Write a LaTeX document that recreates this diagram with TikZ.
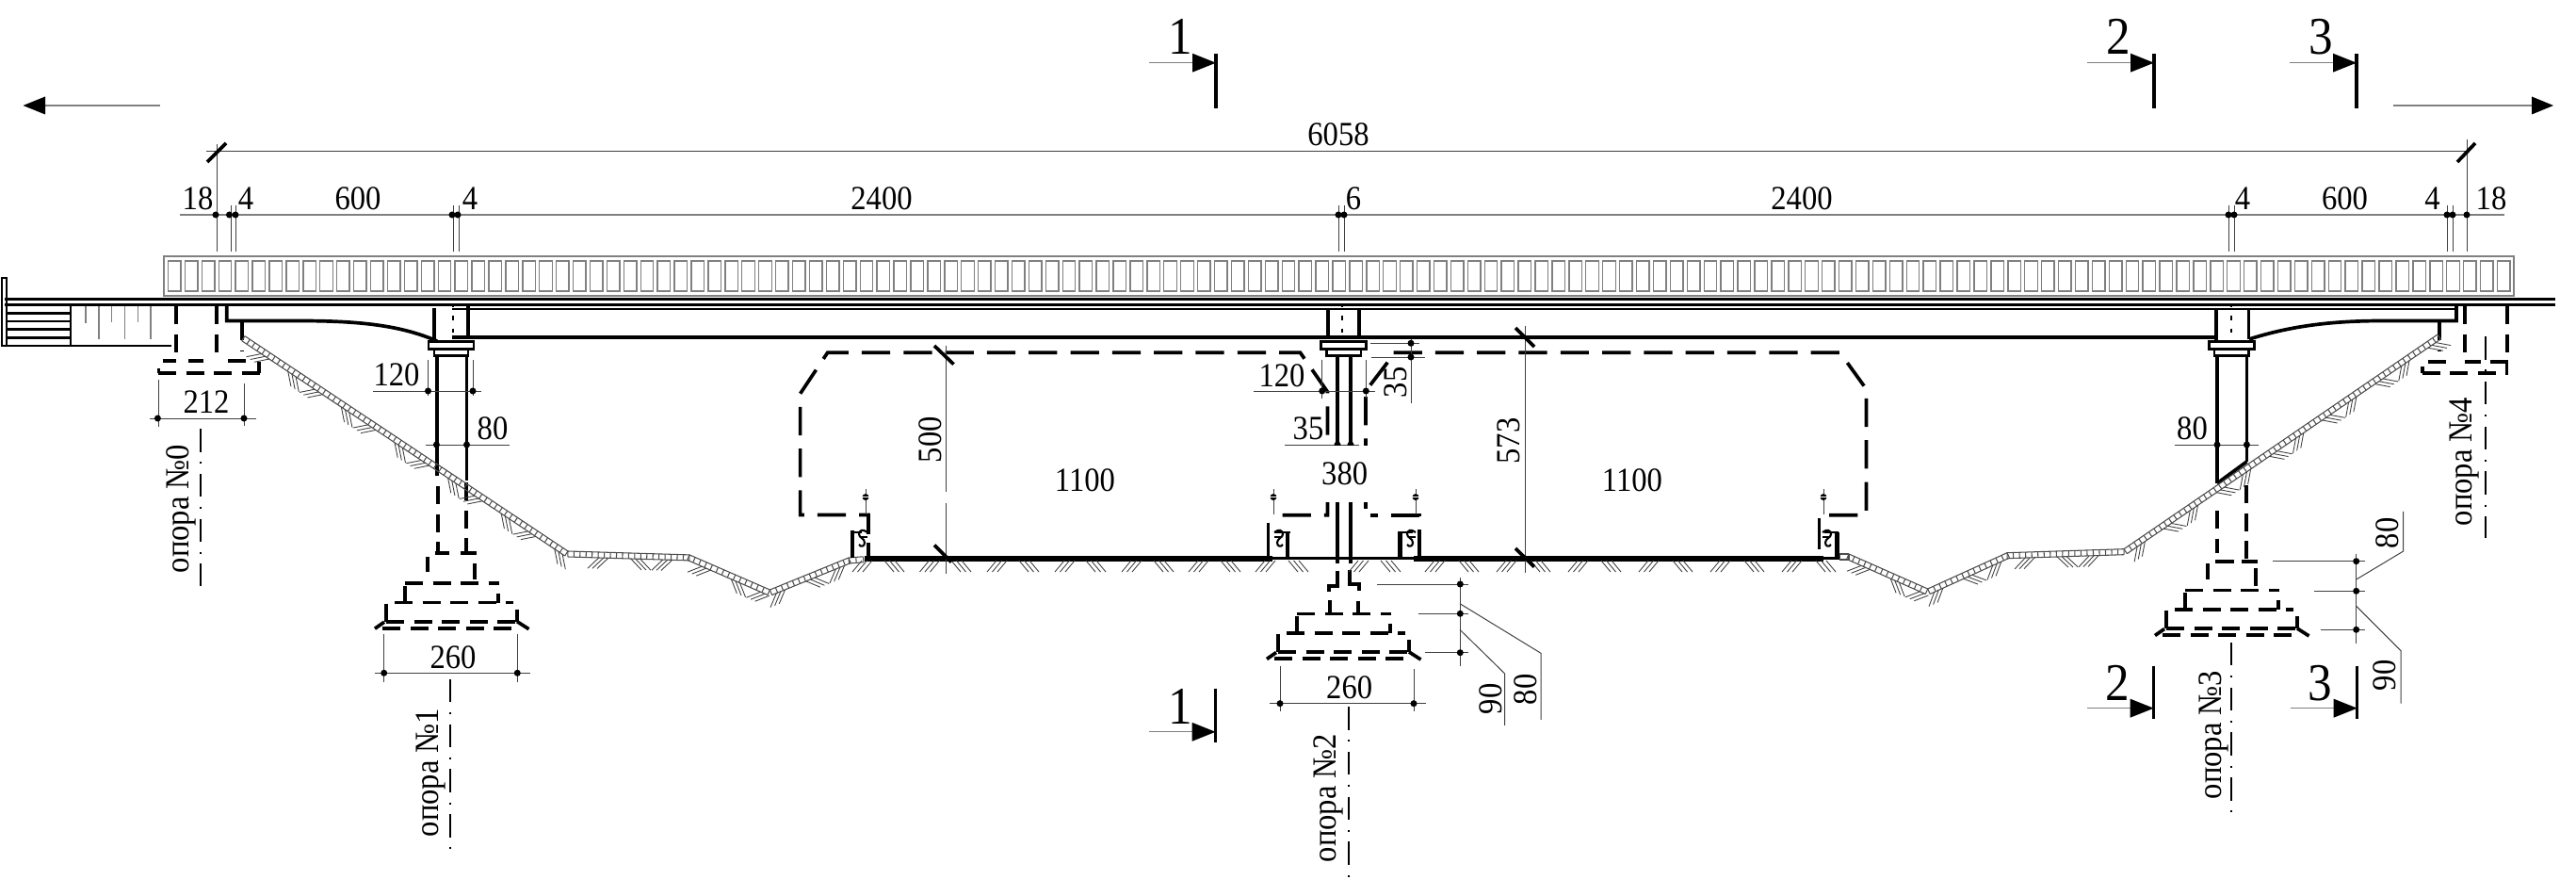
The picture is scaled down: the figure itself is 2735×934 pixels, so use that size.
\documentclass[tikz,border=0pt]{standalone}
\usepackage{fontspec}
\setmainfont[FakeStretch=0.91]{Liberation Serif}
\usetikzlibrary{calc}
\definecolor{thin}{gray}{0.25}
\definecolor{light}{gray}{0.5}
\tikzset{
  x=0.01cm,y=-0.01cm,
  thn/.style={line width=.28pt,draw=thin},
  gry/.style={line width=.4pt,draw=light},
  rail/.style={line width=.4pt,draw=light},
  thk/.style={line width=1.05pt,draw=black},
  med/.style={line width=.8pt,draw=black},
  bld/.style={line width=1.7pt,draw=black},
  dsh/.style={line width=1.1pt,draw=black,dash pattern=on 5.4pt off 3pt},
  gauge/.style={line width=1.05pt,draw=black,dash pattern=on 8.6pt off 4pt},
  axisl/.style={line width=.6pt,draw=black,dash pattern=on 7pt off 3pt on .6pt off 3pt},
  tick/.style={line width=1.05pt,draw=black},
  dimt/.style={font=\fontsize{10.2}{12}\selectfont,inner sep=0pt},
  dimr/.style={dimt,rotate=90},
  sect/.style={font=\fontsize{16}{18}\selectfont,inner sep=0pt},
  hch/.style={line width=.25pt,draw=thin},
  bnd/.style={line width=.3pt,draw=black!70},
}
\newcommand{\dotat}[2]{\fill (#1,#2) circle (1pt);}
\newcommand{\gband}[4]{%
  \pgfmathsetmacro\gdx{#3-#1}\pgfmathsetmacro\gdy{#4-#2}%
  \pgfmathsetmacro\glen{100*veclen(\gdx/100,\gdy/100)}%
  \pgfmathsetmacro\gux{\gdx/\glen}\pgfmathsetmacro\guy{\gdy/\glen}%
  \draw[bnd] (#1,#2)--(#3,#4);
  \draw[bnd] ({#1-6*\guy},{#2+6*\gux})--({#3-6*\guy},{#4+6*\gux});
  \pgfmathtruncatemacro\gn{\glen/6.4}%
  \foreach \gi in {0,...,\gn}{%
    \pgfmathsetmacro\gs{\gi/\gn*\glen}%
    \draw[bnd] ({#1+\gs*\gux},{#2+\gs*\guy})--++({-6*\guy},{6*\gux});
  }%
}
\newcommand{\ghatch}[6]{%
  \pgfmathsetmacro\gdx{#3-#1}\pgfmathsetmacro\gdy{#4-#2}%
  \pgfmathsetmacro\glen{100*veclen(\gdx/100,\gdy/100)}%
  \pgfmathsetmacro\gux{\gdx/\glen}\pgfmathsetmacro\guy{\gdy/\glen}%
  \pgfmathtruncatemacro\hn{(\glen-#5)/#6}%
  \foreach \gi in {0,...,\hn}{%
    \pgfmathsetmacro\gs{#5+\gi*#6}%
    \pgfmathsetmacro\gsg{ifthenelse(mod(\gi,2)==0,-1,1)}%
    \foreach \gk in {-5,0,5}{%
      \draw[hch] ({#1+(\gs+\gk)*\gux-6*\guy},{#2+(\gs+\gk)*\guy+6*\gux})
        --++({11.5*(-\guy+\gsg*\gux)},{11.5*(\gux+\gsg*\guy)});
    }%
  }%
}
\newcommand{\fwd}[1]{\foreach \hx in {#1}{\foreach \hk in {0,5.5,11}{\draw[hch] ({\hx+\hk},607)--({\hx+\hk+10},595);}}}
\newcommand{\bwd}[1]{\foreach \hx in {#1}{\foreach \hk in {0,5.5,11}{\draw[hch] ({\hx+\hk},595)--({\hx+\hk+10},607);}}}
% foundation steps, origin at centre and top of stem
\newcommand{\fnd}[2]{%
  \begin{scope}[shift={(#1,#2)}]
  \draw[dsh] (-50,32.5)--(50,32.5);
  \draw[thk] (-50,35.5)--(-50,52) (49,43)--(49,53);
  \draw[dsh] (-61,52.8)--(65,52.8);
  \draw[thk] (-70,54)--(-70,73) (69,60)--(69,73);
  \draw[dsh] (-70,73)--(68,73);
  \draw[dsh] (-74,80)--(72,80);
  \draw[thk] (-82,80.5)--(-72,73.5) (69,73)--(81.5,81);
  \end{scope}}
\newcommand{\kerbpt}[1]{%
  \draw[thn] (#1,519)--(#1,546);
  \fill (#1,527.6) circle (1pt);
  \draw[white,line width=.2pt] ({#1-4},527.6)--({#1+4},527.6);}
\newcommand{\curl}[3]{% x, y, direction
  \begin{scope}[shift={(#1,#2)},xscale=#3]
  \draw[line width=.6pt] (0,0) .. controls (5,-4) and (9,-2) .. (9,2) .. controls (9,6) and (3,6) .. (3,11) .. controls (3,15) and (7,16) .. (9,13);
  \draw[line width=.6pt] (0,5)--(8,5);
  \end{scope}}
\begin{document}
\begin{tikzpicture}
\useasboundingbox (0,0) rectangle (2735,934);
% direction arrows
\coordinate (al) at (24.5,112); \coordinate (alt) at (170,112);
\draw[gry] (alt)--(48,112);
\fill (al)--(48,102.5)--(48,121.5)--cycle;
\coordinate (ar) at (2711,112); \coordinate (art) at (2541,112);
\draw[gry] (art)--(2688,112);
\fill (ar)--(2688,102.5)--(2688,121.5)--cycle;
% overall dimension
\draw[thn] (219,161)--(2619,161);
\draw[thn] (230,153)--(230,267) (2619,148)--(2619,267);
\draw[tick] (220,172)--(240,152) (2609,172)--(2628,152);
\node[dimt] (t6058) at (1421,143) {6058};
% second dimension row
\draw[gry] (190.6,228)--(2659,228);
\foreach \vx in {245,250,481,487,1421,1427,2366,2372,2598,2604}{\draw[thn] (\vx,218)--(\vx,267);}
\foreach \vx in {229,243.5,250,480,486,1421,1427,2366,2372,2598,2604,2619}{\dotat{\vx}{228}}
\node[dimt] (d18a) at (210,211) {18};
\node[dimt] (d4a) at (261,211) {4};
\node[dimt] (d600a) at (380,211) {600};
\node[dimt] (d4b) at (499,211) {4};
\node[dimt] (d2400a) at (936,211) {2400};
\node[dimt] (d6) at (1437,211) {6};
\node[dimt] (d2400b) at (1913,211) {2400};
\node[dimt] (d4c) at (2381,211) {4};
\node[dimt] (d600b) at (2489.5,211) {600};
\node[dimt] (d4d) at (2582.6,211) {4};
\node[dimt] (d18b) at (2645,211) {18};
% railing
\draw[rail] (174,272) rectangle (2669,314);
\foreach \i in {0,...,138}{\draw[rail] ({178.5+\i*17.92},277) rectangle ++(13.5,32);}
% deck
\draw[line width=.95pt] (5,317.5)--(2713,317.5);
\draw[line width=.8pt] (5,323.5)--(2713,323.5);
\draw[line width=.8pt] (480,328)--(2608,328);
% left abutment
\draw[line width=.7pt] (2,295) rectangle (7,367);
\foreach \vy in {332.3,341,349.7,358.3}{\draw[line width=.8pt] (8,\vy)--(75,\vy);}
\draw[med] (8,367)--(182,367);
\draw[med] (75,323)--(75,367);
\foreach \vx/\ve in {91/342.7,105/360,118.7/342,132.7/360,146.7/342,160/360}{\draw[gry] (\vx,325)--(\vx,\ve);}
\draw[dsh] (187,325)--(187,383) (230,325)--(230,383);
\draw[dsh] (172.7,383.3)--(187,383.3) (200,383.3)--(216,383.3) (242,383.3)--(265,383.3);
\draw[dsh] (168,396)--(277,396);
\draw[thk] (168.5,391)--(168.5,396) (275,384)--(275,396);
\draw[dsh] (257,342)--(257,372);
% left beam end
\draw[thk] (240.7,323)--(240.7,340.5)--(317,340.5) .. controls (380,340.5) and (425,345) .. (464,362);
% beam soffit
\draw[thk] (480,358)--(2353,358);
% right beam end
\draw[thk] (2388,360) .. controls (2435,345) and (2480,340.5) .. (2531,340.5)--(2608,340.5)--(2608,323);
% right abutment
\draw[dsh] (2617,325)--(2617,384);
\draw[dsh] (2661.6,325)--(2661.6,384);
\draw[dsh] (2577.7,384)--(2602,384) (2617,384)--(2634,384) (2644,384)--(2663,384);
\draw[dsh] (2571.7,395.7)--(2662.7,395.7);
\draw[thk] (2572,389)--(2572,396) (2661.6,384)--(2661.6,396);
\draw[dsh] (2590,342)--(2590,372);
% piers: caps
\draw[thk] (461,327)--(461,362) (497,325)--(497,357);
\draw[thk] (1410,328)--(1410,358) (1443,328)--(1443,358);
\draw[thk] (2353,328)--(2353,362) (2387.5,328)--(2387.5,360);
\foreach \vx in {481,1425,2369}{\draw[line width=.8pt,dash pattern=on 1.2pt off 2.6pt] (\vx,322)--(\vx,358);}
\foreach \ax/\bx/\cx/\dx in {455/503/461/497,1402.7/1450.7/1408.7/1445,2345.3/2393.5/2351/2387.5}{
  \draw[med,fill=white] (\ax,362.7) rectangle (\bx,370.7);
  \draw[med,fill=white] (\cx,370.7) rectangle (\dx,377.3);}
% columns
\draw[thk] (464,377)--(464,505) (495.5,377)--(495.5,510);
\draw[thk] (1420,377)--(1420,598) (1434,377)--(1434,598);
\draw[thk] (2354,377)--(2354,513) (2385.4,377)--(2385.4,490);
\draw[thk] (2354,513)--(2385.4,490);
% buried stems
\draw[dsh] (464.7,516)--(464.7,587) (495.3,512)--(495.3,587);
\draw[thk] (461.7,586.7)--(477,586.7) (489,586.7)--(506,586.7);
\draw[thk] (454,590.7)--(454,607) (504,598)--(504,615);
\draw[thk] (1420,606)--(1420,622)--(1410.7,622)--(1410.7,628);
\draw[thk] (1432.7,605)--(1432.7,620)--(1443,620)--(1443,627);
\draw[thk] (1411.7,636.7)--(1411.7,651.7) (1442,638)--(1442,651.7);
\draw[dsh] (2354,542)--(2354,587) (2385.4,515)--(2385.4,595);
\draw[thk] (2352,595.7)--(2371.7,595.7) (2380,595.7)--(2396.7,595.7);
\draw[thk] (2344,598)--(2344,615) (2395,603)--(2395,622);
\fnd{480}{586.7}
\fnd{1427}{619}
\fnd{2370}{594}
% ground
\gband{260}{356.7}{603}{585}
\gband{603}{585}{732}{588.9}
\gband{732}{588.9}{817.4}{626}
\gband{817.4}{626}{901}{592}
\gband{901}{592}{916.5}{590.8}
\gband{1953}{588}{1963}{588}
\gband{1963}{588}{2046.7}{625}
\gband{2046.7}{625}{2131}{586.7}
\gband{2131}{586.7}{2255}{582.7}
\gband{2255}{582.7}{2588}{355}
\ghatch{260}{356.7}{603}{585}{30}{34}
\ghatch{603}{585}{732}{588.9}{38}{34}
\ghatch{732}{588.9}{817.4}{626}{22}{34}
\ghatch{817.4}{626}{901}{592}{10}{34}
\ghatch{1963}{588}{2046.7}{625}{22}{34}
\ghatch{2046.7}{625}{2131}{586.7}{10}{34}
\ghatch{2131}{586.7}{2255}{582.7}{24}{34}
\ghatch{2255}{582.7}{2588}{355}{18}{34}
% road
\draw[bld] (918,592.7)--(1351,592.7) (1501,592.7)--(1936,592.7);
\draw[med] (1351,592.7)--(1501,592.7) (1936,592.7)--(1953,592.7);
\fwd{905,976.5,1048,1120,1191,1262,1333,1432,1513,1589,1665,1740,1816,1892}
\bwd{939,1010,1082,1153,1225,1296,1368,1466,1549,1625,1700,1776,1852,1928}
% clearance gauges
\draw[gauge] (921.9,567)--(921.9,546.5)--(849.6,546.5)--(849.6,417.8)--(878.6,374.3)--(1380.5,374.3)--(1409.5,416)--(1409.5,546.7)--(1350,546.7);
\draw[thk] (921.9,576)--(921.9,592);
\draw[gauge] (1506.7,592)--(1506.7,546.7)--(1455,546.7);
\draw[gauge] (1450,540)--(1450,415)--(1476,381);
\draw[gauge] (1479.5,374.3)--(1953.6,374.3)--(1981.5,413)--(1981.5,546.7)--(1939,546.7);
% kerbs
\kerbpt{919}\kerbpt{1352}\kerbpt{1503}\kerbpt{1936}
\draw[line width=1.4pt] (905,592)--(905,563);
\draw[med] (905,565)--(915,565);
\curl{921}{565}{-1}
\draw[med] (1346.7,555)--(1346.7,592);
\draw[line width=1.4pt] (1367,565)--(1367,592);
\draw[med] (1353,565)--(1370,565);
\curl{1353}{565}{1}
\draw[line width=1.4pt] (1486.7,565)--(1486.7,592);
\draw[med] (1484,565)--(1500,565);
\curl{1503}{565}{-1}
\draw[med] (1931.7,550)--(1931.7,583);
\draw[line width=1.4pt] (1950.4,565)--(1950.4,593);
\draw[med] (1937,565)--(1952,565);
\curl{1935}{565}{1}
% dimension 500 / 573
\draw[thn] (1004.5,366.6)--(1004.5,522) (1004.5,534)--(1004.5,609);
\draw[tick] (992,367)--(1012.5,386.6) (992,578.5)--(1010,596.5);
\node[dimr] (d500) at (988,466.7) {500};
\node[dimt] (d1100a) at (1152,510) {1100};
\draw[thn] (1619.6,345.7)--(1619.6,608);
\draw[tick] (1609,348)--(1629,368) (1609,582)--(1629,601.7);
\node[dimr] (d573) at (1602,468) {573};
\node[dimt] (d1100b) at (1733,510) {1100};
% pier 1 dims
\draw[thn] (396,415)--(511,415) (454.5,382)--(454.5,420) (502,382)--(502,420);
\dotat{454.5}{415}\dotat{502}{415}
\node[dimt] (d120a) at (421,398) {120};
\draw[thn] (452,472)--(541,472);
\dotat{463.4}{472}\dotat{495.5}{472}
\node[dimt] (d80a) at (523,455) {80};
\draw[thn] (397.7,714.3)--(563,714.3) (407.7,673)--(407.7,724) (549.3,673)--(549.3,724);
\dotat{407.7}{714.3}\dotat{549.3}{714.3}
\node[dimt] (d260a) at (481,698) {260};
% abutment 0 dim
\draw[thn] (159,444)--(272,444) (168,403)--(168,452.7) (259,407)--(259,452);
\dotat{167.4}{444}\dotat{259}{444}
\node[dimt] (d212) at (219,427) {212};
% pier 2 dims
\draw[thn] (1331,415)--(1460,415) (1403.7,381.7)--(1403.7,423) (1450.3,381.7)--(1450.3,423);
\dotat{1403.7}{415}\dotat{1450.3}{415}
\node[dimt] (d120b) at (1361,399) {120};
\draw[thn] (1364,472)--(1443,472);
\dotat{1420}{472}\dotat{1434}{472}
\node[dimt] (d35a) at (1389,455) {35};
\draw[thn] (1498,360)--(1498,427.7) (1455,364.3)--(1506.7,364.3) (1455.7,379)--(1513,379);
\dotat{1498}{364.3}\dotat{1498}{379}
\node[dimr] (d35b) at (1481.7,406) {35};
\node[dimt,fill=white,inner xsep=1pt,inner ysep=5pt] (d380) at (1427.7,503) {380};
\draw[thn] (1348,746.7)--(1514,746.7) (1359,706.7)--(1359,755) (1501,710)--(1501,755);
\dotat{1359}{746.7}\dotat{1501}{746.7}
\node[dimt] (d260b) at (1432.7,730) {260};
\draw[thn] (1550.3,613)--(1550.3,706.7) (1462,620)--(1559,620) (1505.7,651.3)--(1559,651.3) (1513,692.7)--(1559,692.7);
\dotat{1550.3}{620}\dotat{1550.3}{651.3}\dotat{1550.3}{692.7}
\draw[thn] (1550,640.7)--(1636,693.3)--(1636,764);
\draw[thn] (1550,668.3)--(1597.7,715)--(1597.7,770);
\node[dimr] (d90a) at (1582.7,741.7) {90};
\node[dimr] (d80b) at (1620,731.7) {80};
% pier 3 dims
\draw[thn] (2308.5,472)--(2397.6,472);
\dotat{2354}{472}\dotat{2385.4}{472}
\node[dimt] (d80c) at (2327.5,455) {80};
\draw[thn] (2501.7,588)--(2501.7,683) (2413,595.7)--(2510.7,595.7) (2456.7,627.3)--(2510.7,627.3) (2464,668.3)--(2510.7,668.3);
\dotat{2501.7}{595.7}\dotat{2501.7}{627.3}\dotat{2501.7}{668.3}
\draw[thn] (2501.7,615)--(2551.7,585)--(2551.7,543);
\draw[thn] (2501.7,643.3)--(2549,690.7)--(2549,746.7);
\node[dimr] (d80d) at (2534.3,566) {80};
\node[dimr] (d90b) at (2531.7,716.7) {90};
% axes and labels
\draw[axisl] (213.4,455)--(213.4,622);
\node[dimr] (op0) at (192,540) {опора №0};
\draw[axisl] (478.3,720.7)--(478.3,905);
\node[dimr] (op1) at (457,820) {опора №1};
\draw[axisl] (1431.7,750)--(1431.7,933);
\node[dimr] (op2) at (1410,847) {опора №2};
\draw[axisl] (2369.3,681.7)--(2369.3,866);
\node[dimr] (op3) at (2350,780) {опора №3};
\draw[axisl] (2639,357)--(2639,570.7);
\node[dimr] (op4) at (2616,490) {опора №4};
% section marks
\foreach \nm/\bx/\tx/\lb/\ay/\ya/\yb/\ty in {
  sa/1291/1253/1/66.7/57.3/115/39,
  sb/2287/2249/2/66.7/57.3/115/39,
  sc/2502/2464/3/66.7/57.3/115/39,
  sd/1290.6/1253.6/1/776.8/730.6/788/750,
  se/2286.7/2248/2/751.7/706.7/763/725,
  sf/2502.7/2463/3/751.7/706.7/763/725}{
  \draw[gry] ({\bx-71},\ay)--({\bx-20},\ay);
  \fill (\bx,\ay)--({\bx-25},{\ay-10})--({\bx-25},{\ay+10})--cycle;
  \draw[line width=.95pt] (\bx,\ya)--(\bx,\yb);
  \node[sect] (\nm) at (\tx,\ty) {\lb};
}
\end{tikzpicture}
\end{document}
